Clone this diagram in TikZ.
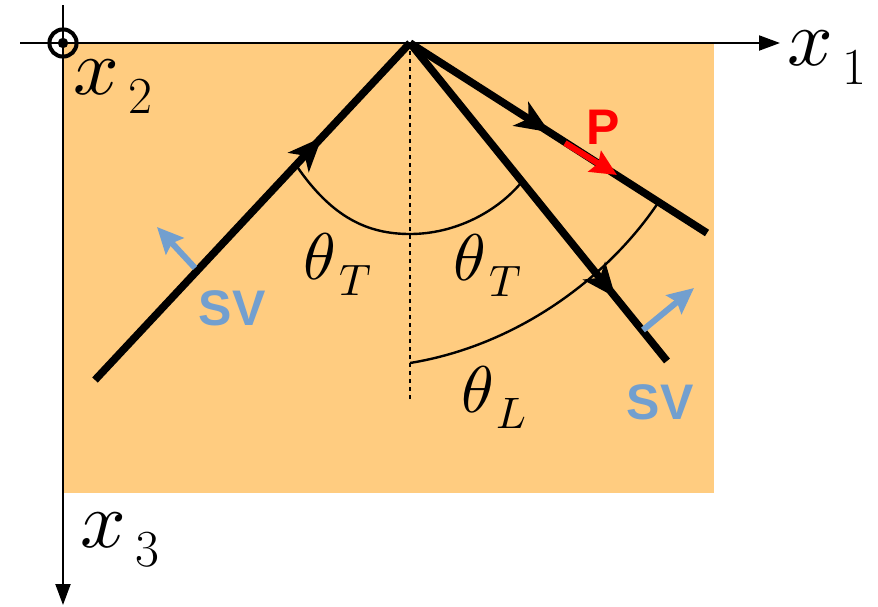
\documentclass[tikz,border=0pt]{standalone}
\usepackage{fontspec}
\usepackage{unicode-math}
\newfontfamily\sansgras{Liberation Sans}
\usetikzlibrary{arrows.meta,decorations.markings,calc}
\definecolor{milieu}{RGB}{255,204,128}
\definecolor{bleu}{RGB}{114,159,207}
\newcommand{\epais}[0]{3.8pt}
\newcommand{\nomaxe}[1]{{\fontsize{40}{44}\selectfont$x$}\hspace{5pt}%
	\raisebox{-9.5pt}{\fontsize{26}{29}\selectfont #1}}
\newcommand{\nomangle}[1]{{\fontsize{33}{36}\selectfont$\theta$}\hspace{2pt}%
	\raisebox{-8pt}{\fontsize{22}{25}\selectfont$#1$}}
\tikzset{
	axe/.style={line width=1pt,-{Triangle[length=10.5pt,width=7.5pt]}},
	rayon/.style={line width=\epais},
	fleche/.style={postaction={decorate},decoration={markings,
		mark=at position #1 with {\arrow{Stealth[length=17pt,width=14pt,inset=4.5pt]}}}},
	polar/.style={line width=3pt,-{Stealth[length=13pt,width=12pt,inset=2pt]}},
	angle/.style={line width=1.2pt},
	pointille/.style={line width=1pt,dash pattern=on 2pt off 2pt},
	onde/.style={font=\sansgras\bfseries\fontsize{25}{28}\selectfont,inner sep=0pt},
	nom/.style={inner sep=0pt}
}
\begin{document}
\begin{tikzpicture}[x=0.5pt,y=-0.5pt]
	\useasboundingbox (0,0) rectangle (878,606);
	\fill[milieu] (64,43) rectangle (714,493);
	% axes
	\coordinate (O) at (63,43);
	\coordinate (x1g) at (20,43);
	\coordinate (x1d) at (780,43);
	\coordinate (x3h) at (63,5);
	\coordinate (x3b) at (63,605);
	\draw[axe] (x1g) -- (x1d);
	\draw[axe] (x3h) -- (x3b);
	\draw[line width=2pt] (O) circle (6.8pt);
	\fill (O) circle (2.6pt);
	\node[nom] (n1) at (827,57) {\nomaxe{1}};
	\node[nom] (n2) at (113,86) {\nomaxe{2}};
	\node[nom] (n3) at (120,540) {\nomaxe{3}};
	% rayons
	\coordinate (A) at (410,43);
	\coordinate (I) at (95,380);
	\coordinate (T) at (667,361);
	\coordinate (L) at (707,233);
	\coordinate (V) at (410,400);
	\draw[pointille] (A) -- (V);
	\draw[rayon,fleche=0.72] (I) -- (A);
	\draw[rayon,fleche=0.47] (A) -- (L);
	\draw[rayon,fleche=0.80] (A) -- (T);
	% angles
	\coordinate (aT1) at ($(A)!0.362!(I)$);
	\coordinate (aT2) at ($(A)!0.436!(T)$);
	\coordinate (aL1) at (410,363);
	\coordinate (aL2) at ($(A)!0.837!(L)$);
	\draw[angle] (aT1) .. controls (332,218) and (368,234) .. (410,234)
		.. controls (455,234) and (497,212) .. (aT2);
	\draw[angle] (aL1) .. controls (520,345) and (610,275) .. (aL2);
	\node[nom] (tT1) at (338,264) {\nomangle{T}};
	\node[nom] (tT2) at (488,265) {\nomangle{T}};
	\node[nom] (tL) at (494,397) {\nomangle{L}};
	% polarisations
	\coordinate (s1a) at (195,268);
	\coordinate (s1b) at (157,227);
	\coordinate (s2a) at (643,330);
	\coordinate (s2b) at (694,288);
	\coordinate (pa) at (565,143);
	\coordinate (pb) at (617,175);
	\draw[polar,bleu] (s1a) -- (s1b);
	\draw[polar,bleu] (s2a) -- (s2b);
	\draw[polar,red] (pa) -- (pb);
	\node[onde,text=bleu] (sv1) at (232,308) {SV};
	\node[onde,text=bleu] (sv2) at (660,402) {SV};
	\node[onde,text=red] (p) at (603,127) {P};
\end{tikzpicture}
\end{document}
